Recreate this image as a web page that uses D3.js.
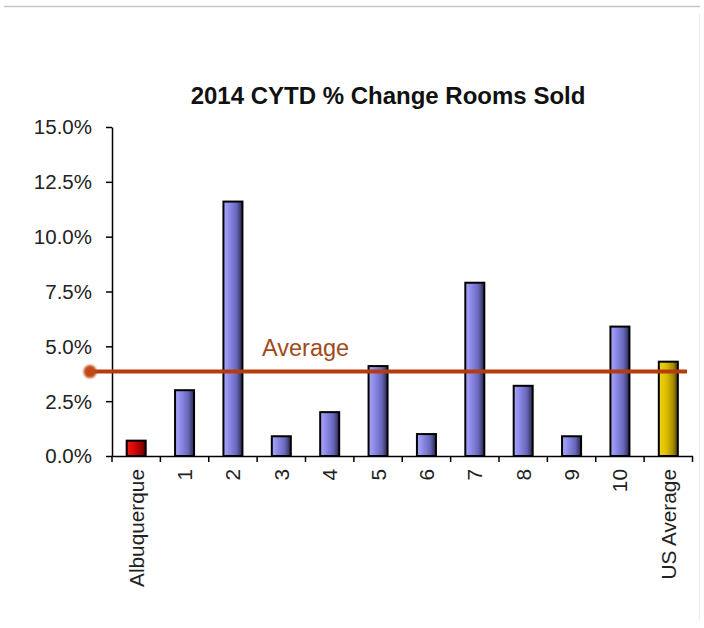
<!DOCTYPE html>
<html>
<head>
<meta charset="utf-8">
<script src="https://cdn.jsdelivr.net/npm/d3@7"></script>
<style>
  html, body { margin: 0; padding: 0; background: #ffffff; }
  svg { display: block; }
  text { font-family: "Liberation Sans", Arial, sans-serif; }
</style>
</head>
<body>
<svg id="chart" width="704" height="628"></svg>
<script>
// Market categories and their year-to-date % change in rooms sold
const categories = ["Albuquerque", "1", "2", "3", "4", "5", "6", "7", "8", "9", "10", "US Average"];
const values = [0.007, 0.030, 0.116, 0.009, 0.020, 0.041, 0.010, 0.079, 0.032, 0.009, 0.059, 0.043];
const barKinds = ["home", "comp", "comp", "comp", "comp", "comp", "comp", "comp", "comp", "comp", "comp", "us"];
const averageValue = 0.0385;
const averageLabel = "Average";
const yTicks = [0, 0.025, 0.05, 0.075, 0.10, 0.125, 0.15];
const title = "2014 CYTD % Change Rooms Sold";

const svg = d3.select("#chart");

// faint frame lines of the surrounding page
svg.append("line").attr("x1", 4).attr("x2", 700).attr("y1", 6.5).attr("y2", 6.5)
  .attr("stroke", "#c8c8c8").attr("stroke-width", 1.5);
svg.append("line").attr("x1", 699.5).attr("x2", 699.5).attr("y1", 14).attr("y2", 620)
  .attr("stroke", "#ececec").attr("stroke-width", 1);

const plot = { left: 112, right: 692.5, top: 127, bottom: 456 };

const x = d3.scaleBand().domain(categories).range([plot.left, plot.right]).padding(0);
const y = d3.scaleLinear().domain([0, 0.15]).range([plot.bottom, plot.top]);

// horizontal gradients giving the bars a rounded, shaded look
const defs = svg.append("defs");
const gradients = {
  comp: [["0%", "#aaa8f8"], ["35%", "#8886e4"], ["70%", "#6866b8"], ["100%", "#26264a"]],
  home: [["0%", "#f01818"], ["40%", "#d80808"], ["75%", "#a00000"], ["100%", "#500000"]],
  us:   [["0%", "#f2d414"], ["40%", "#dcbc00"], ["75%", "#a88c00"], ["100%", "#4c4000"]]
};
Object.entries(gradients).forEach(([key, stops]) => {
  const g = defs.append("linearGradient").attr("id", "grad-" + key)
    .attr("x1", "0%").attr("x2", "100%").attr("y1", "0%").attr("y2", "0%");
  stops.forEach(([off, col]) => g.append("stop").attr("offset", off).attr("stop-color", col));
});
const glow = defs.append("filter").attr("id", "soft").attr("x", "-50%").attr("y", "-50%")
  .attr("width", "200%").attr("height", "200%");
glow.append("feGaussianBlur").attr("stdDeviation", 0.8);

// title
svg.append("text")
  .attr("x", 388).attr("y", 104)
  .attr("text-anchor", "middle")
  .attr("font-size", 24).attr("font-weight", "bold")
  .attr("fill", "#111")
  .text(title);

// bars
const barW = 19;
svg.append("g").selectAll("rect")
  .data(categories.map((c, i) => ({ c, v: values[i], k: barKinds[i] })))
  .join("rect")
  .attr("x", d => x(d.c) + x.bandwidth() / 2 - barW / 2)
  .attr("y", d => y(d.v))
  .attr("width", barW)
  .attr("height", d => y(0) - y(d.v))
  .attr("fill", d => "url(#grad-" + d.k + ")")
  .attr("stroke", "#000")
  .attr("stroke-width", 2);

// y axis
const yAxis = svg.append("g")
  .attr("transform", `translate(${plot.left},0)`)
  .call(d3.axisLeft(y).tickValues(yTicks).tickFormat(d3.format(".1%")).tickSize(6).tickSizeOuter(0).tickPadding(14));
yAxis.select(".domain").attr("stroke", "#000").attr("stroke-width", 1.5);
yAxis.selectAll(".tick line").attr("stroke", "#000").attr("stroke-width", 1.5);
yAxis.selectAll(".tick text")
  .attr("font-size", 20.5).attr("fill", "#222")
  .attr("font-family", "\"Liberation Sans\", Arial, sans-serif")
  .attr("dy", "0.34em");

// x axis: labels at band centres, tick marks at band boundaries
const xAxis = svg.append("g")
  .attr("transform", `translate(0,${plot.bottom})`)
  .call(d3.axisBottom(x).tickSize(0).tickPadding(0).tickSizeOuter(0));
xAxis.select(".domain").attr("stroke", "#000").attr("stroke-width", 1.5);
xAxis.selectAll(".tick text")
  .attr("font-size", 20.8).attr("fill", "#222")
  .attr("font-family", "\"Liberation Sans\", Arial, sans-serif")
  .attr("text-anchor", "end")
  .attr("x", -13)
  .attr("y", 0)
  .attr("dy", "0.36em")
  .attr("transform", "rotate(-90)");
const boundaries = categories.map(c => x(c)).concat([x.range()[1]]);
xAxis.append("g").selectAll("line")
  .data(boundaries)
  .join("line")
  .attr("x1", d => d).attr("x2", d => d)
  .attr("y1", 0).attr("y2", 6)
  .attr("stroke", "#000").attr("stroke-width", 1.5);

// average reference line with its end marker and label
const avgY = y(averageValue);
svg.append("line")
  .attr("x1", 90).attr("x2", 687)
  .attr("y1", avgY).attr("y2", avgY)
  .attr("stroke", "#b33d0e").attr("stroke-width", 4);
svg.append("circle")
  .attr("cx", 90).attr("cy", avgY).attr("r", 6.5)
  .attr("fill", "#c24a16").attr("filter", "url(#soft)");
svg.append("text")
  .attr("x", 262).attr("y", 356)
  .attr("font-size", 23.5)
  .attr("fill", "#a04a1c")
  .text(averageLabel);
</script>
</body>
</html>
